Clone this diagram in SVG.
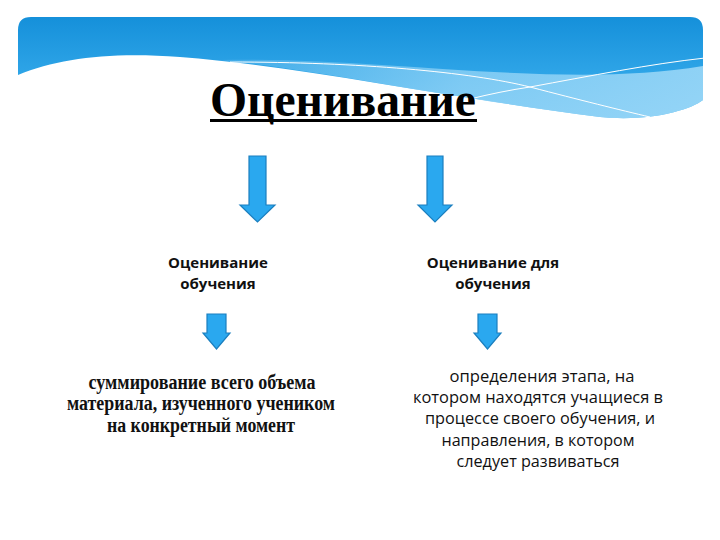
<svg xmlns="http://www.w3.org/2000/svg" width="720" height="540" viewBox="0 0 720 540">
<defs>
<linearGradient id="bg" x1="0" y1="0" x2="0" y2="1">
<stop offset="0" stop-color="#1590da"/>
<stop offset="0.6" stop-color="#30a6e8"/>
<stop offset="1" stop-color="#62bff2"/>
</linearGradient>
<linearGradient id="lw" x1="0" y1="0" x2="1" y2="0">
<stop offset="0" stop-color="#8fd2f6" stop-opacity="0.2"/>
<stop offset="0.5" stop-color="#8fd2f6" stop-opacity="0.8"/>
<stop offset="1" stop-color="#9ad7f7" stop-opacity="0.9"/>
</linearGradient>
<style>
.arrow{fill:#2aa8ef;stroke:#1b7fbf;stroke-width:1.2;stroke-linejoin:miter}
.lbl{font-family:"Open Sans","Liberation Sans",sans-serif;font-weight:bold;font-size:15px;fill:#111;text-anchor:middle}
.ser{font-family:"Liberation Serif",serif;font-weight:bold;font-size:20px;fill:#111;text-anchor:middle}
.san{font-family:"Open Sans","Liberation Sans",sans-serif;font-size:16px;fill:#111;text-anchor:middle}
</style>
</defs>
<rect width="720" height="540" fill="#fff"/>
<g id="banner">
<path d="M18,75 C60,58 110,52 180,57 C300,66 450,98 600,117 C650,122 690,110 703,100 L703,30 Q703,17 690,17 L31,17 Q18,17 18,30 Z" fill="url(#bg)"/>
<path d="M220,60 C380,56 560,90 703,66 L703,100 C690,110 650,122 600,117 C450,98 320,70 220,60 Z" fill="url(#lw)"/>
<path d="M230,62 C360,62 470,72 530,87 C580,100 620,110 650,117" fill="none" stroke="#fff" stroke-width="1"/>
<path d="M470,99 C490,94 510,90 530,87 C590,76 650,64 705,58" fill="none" stroke="#fff" stroke-width="1"/>
</g>
<g id="title">
<text x="343" y="116" font-family="Liberation Serif, serif" font-weight="bold" font-size="48" text-anchor="middle" textLength="266" lengthAdjust="spacingAndGlyphs" fill="#000">Оценивание</text>
<rect x="210" y="119" width="267" height="3" fill="#000"/>
</g>
<g id="connectors">
<path class="arrow" d="M249,156 L266,156 L266,205 L275,205 L257.5,222 L240,205 L249,205 Z"/>
<path class="arrow" d="M427,156 L443,156 L443,205 L452,205 L435,222 L418,205 L427,205 Z"/>
<path class="arrow" d="M207,314 L226,314 L226,333 L230,333 L216.5,349 L203,333 L207,333 Z"/>
<path class="arrow" d="M478,314 L497,314 L497,333 L501,333 L487.5,349 L474,333 L478,333 Z"/>
</g>
<g id="node-left">
<text class="lbl" x="218" y="268">Оценивание</text>
<text class="lbl" x="218" y="289">обучения</text>
</g>
<g id="node-right">
<text class="lbl" x="493" y="268">Оценивание для</text>
<text class="lbl" x="493" y="289">обучения</text>
</g>
<g id="desc-left">
<text class="ser" x="202" y="389" textLength="227" lengthAdjust="spacingAndGlyphs">суммирование всего объема</text>
<text class="ser" x="201" y="410" textLength="268" lengthAdjust="spacingAndGlyphs">материала, изученного учеником</text>
<text class="ser" x="201" y="432" textLength="188" lengthAdjust="spacingAndGlyphs">на конкретный момент</text>
</g>
<g id="desc-right">
<text class="san" x="542" y="382" textLength="185" lengthAdjust="spacingAndGlyphs">определения этапа, на</text>
<text class="san" x="538" y="403" textLength="250" lengthAdjust="spacingAndGlyphs">котором находятся учащиеся в</text>
<text class="san" x="540" y="424" textLength="230" lengthAdjust="spacingAndGlyphs">процессе своего обучения, и</text>
<text class="san" x="538" y="446" textLength="193" lengthAdjust="spacingAndGlyphs">направления, в котором</text>
<text class="san" x="538" y="467" textLength="163" lengthAdjust="spacingAndGlyphs">следует развиваться</text>
</g>
</svg>
